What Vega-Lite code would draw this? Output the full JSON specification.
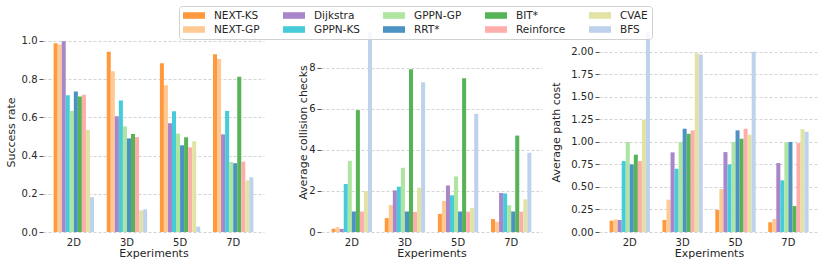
{
  "$schema": "https://vega.github.io/schema/vega-lite/v6.json",
  "padding": {"left": 5, "top": 5, "right": 3, "bottom": 2},
  "config": {
    "font": "DejaVu Sans",
    "view": {"stroke": null},
    "axis": {"labelFont": "DejaVu Sans", "titleFont": "DejaVu Sans", "labelColor": "#262626", "titleColor": "#262626", "titleFontWeight": "normal", "labelFontSize": 10, "titleFontSize": 11, "domain": false},
    "axisY": {"grid": true, "gridColor": "#c8c8c8", "gridDash": [3, 2], "gridWidth": 0.8, "tickColor": "#555555", "tickSize": 4, "labelPadding": 2},
    "axisX": {"grid": false, "ticks": false, "labelPadding": 5, "titlePadding": 0, "labelAngle": 0}
  },
  "datasets": {
    "d": [
      {"exp": "2D", "method": "NEXT-KS", "sr": 0.988, "cc": 0.16, "pc": 0.126},
      {"exp": "2D", "method": "NEXT-GP", "sr": 0.981, "cc": 0.23, "pc": 0.14},
      {"exp": "2D", "method": "Dijkstra", "sr": 0.998, "cc": 0.15, "pc": 0.133},
      {"exp": "2D", "method": "GPPN-KS", "sr": 0.716, "cc": 2.34, "pc": 0.787},
      {"exp": "2D", "method": "GPPN-GP", "sr": 0.634, "cc": 3.47, "pc": 1.0},
      {"exp": "2D", "method": "RRT*", "sr": 0.735, "cc": 1.0, "pc": 0.75},
      {"exp": "2D", "method": "BIT*", "sr": 0.709, "cc": 5.94, "pc": 0.858},
      {"exp": "2D", "method": "Reinforce", "sr": 0.719, "cc": 1.0, "pc": 0.787},
      {"exp": "2D", "method": "CVAE", "sr": 0.534, "cc": 2.0, "pc": 1.242},
      {"exp": "2D", "method": "BFS", "sr": 0.182, "cc": 10.5, "pc": 2.35},
      {"exp": "3D", "method": "NEXT-KS", "sr": 0.944, "cc": 0.68, "pc": 0.133},
      {"exp": "3D", "method": "NEXT-GP", "sr": 0.841, "cc": 1.31, "pc": 0.359},
      {"exp": "3D", "method": "Dijkstra", "sr": 0.606, "cc": 2.03, "pc": 0.884},
      {"exp": "3D", "method": "GPPN-KS", "sr": 0.689, "cc": 2.21, "pc": 0.702},
      {"exp": "3D", "method": "GPPN-GP", "sr": 0.553, "cc": 3.13, "pc": 1.0},
      {"exp": "3D", "method": "RRT*", "sr": 0.49, "cc": 1.0, "pc": 1.146},
      {"exp": "3D", "method": "BIT*", "sr": 0.513, "cc": 7.94, "pc": 1.09},
      {"exp": "3D", "method": "Reinforce", "sr": 0.497, "cc": 0.98, "pc": 1.128},
      {"exp": "3D", "method": "CVAE", "sr": 0.113, "cc": 2.16, "pc": 1.985},
      {"exp": "3D", "method": "BFS", "sr": 0.119, "cc": 7.3, "pc": 1.97},
      {"exp": "5D", "method": "NEXT-KS", "sr": 0.883, "cc": 0.88, "pc": 0.245},
      {"exp": "5D", "method": "NEXT-GP", "sr": 0.768, "cc": 1.51, "pc": 0.477},
      {"exp": "5D", "method": "Dijkstra", "sr": 0.569, "cc": 2.27, "pc": 0.887},
      {"exp": "5D", "method": "GPPN-KS", "sr": 0.632, "cc": 1.79, "pc": 0.75},
      {"exp": "5D", "method": "GPPN-GP", "sr": 0.515, "cc": 2.71, "pc": 1.0},
      {"exp": "5D", "method": "RRT*", "sr": 0.454, "cc": 1.0, "pc": 1.128},
      {"exp": "5D", "method": "BIT*", "sr": 0.496, "cc": 7.5, "pc": 1.035},
      {"exp": "5D", "method": "Reinforce", "sr": 0.443, "cc": 0.99, "pc": 1.146},
      {"exp": "5D", "method": "CVAE", "sr": 0.475, "cc": 1.18, "pc": 1.08},
      {"exp": "5D", "method": "BFS", "sr": 0.028, "cc": 5.76, "pc": 2.0},
      {"exp": "7D", "method": "NEXT-KS", "sr": 0.93, "cc": 0.63, "pc": 0.107},
      {"exp": "7D", "method": "NEXT-GP", "sr": 0.906, "cc": 0.5, "pc": 0.144},
      {"exp": "7D", "method": "Dijkstra", "sr": 0.511, "cc": 1.9, "pc": 0.765},
      {"exp": "7D", "method": "GPPN-KS", "sr": 0.634, "cc": 1.88, "pc": 0.573},
      {"exp": "7D", "method": "GPPN-GP", "sr": 0.366, "cc": 1.31, "pc": 0.995},
      {"exp": "7D", "method": "RRT*", "sr": 0.36, "cc": 1.0, "pc": 1.0},
      {"exp": "7D", "method": "BIT*", "sr": 0.813, "cc": 4.7, "pc": 0.288},
      {"exp": "7D", "method": "Reinforce", "sr": 0.368, "cc": 0.99, "pc": 0.987},
      {"exp": "7D", "method": "CVAE", "sr": 0.27, "cc": 1.59, "pc": 1.142},
      {"exp": "7D", "method": "BFS", "sr": 0.286, "cc": 3.86, "pc": 1.113}
    ]
  },
  "bounds": "flush",
  "spacing": 57,
  "resolve": {"scale": {"color": "shared"}, "legend": {"color": "shared"}},
  "hconcat": [
    {
      "width": 221, "height": 200,
      "data": {"name": "d"},
      "mark": {"type": "bar", "clip": true},
      "encoding": {
        "x": {"field": "exp", "type": "nominal", "title": "Experiments", "scale": {"paddingInner": 0.24, "paddingOuter": 0.2}},
        "xOffset": {"field": "method", "type": "nominal", "scale": {"domain": ["NEXT-KS", "NEXT-GP", "Dijkstra", "GPPN-KS", "GPPN-GP", "RRT*", "BIT*", "Reinforce", "CVAE", "BFS"], "paddingInner": 0, "paddingOuter": 0}},
        "y": {"field": "sr", "type": "quantitative", "title": "Success rate", "scale": {"domain": [0, 1.047], "nice": false}, "axis": {"values": [0, 0.2, 0.4, 0.6, 0.8, 1.0], "format": ".1f", "titlePadding": 5}},
        "color": {"field": "method", "type": "nominal",
          "scale": {"domain": ["NEXT-KS", "NEXT-GP", "Dijkstra", "GPPN-KS", "GPPN-GP", "RRT*", "BIT*", "Reinforce", "CVAE", "BFS"], "range": ["#ff993e", "#ffc993", "#a985ca", "#45cbd9", "#ade5a1", "#4c92c3", "#56b356", "#ffadab", "#e2e2a4", "#bed2ed"]},
          "legend": {"orient": "none", "legendX": 136, "legendY": -26, "columns": 5, "title": null, "symbolType": "M-1,-0.6H3V0.6H-1Z", "symbolSize": 121, "symbolStrokeWidth": 0, "symbolOpacity": 1, "labelFontSize": 10.5, "labelFont": "DejaVu Sans", "labelColor": "#262626", "labelOffset": 20, "columnPadding": 23, "rowPadding": 3, "padding": 4, "strokeColor": "#d0d0d0", "fillColor": "rgba(255,255,255,0.85)", "cornerRadius": 3}
        }
      }
    },
    {
      "width": 221, "height": 200,
      "data": {"name": "d"},
      "mark": {"type": "bar", "clip": true},
      "encoding": {
        "x": {"field": "exp", "type": "nominal", "title": "Experiments", "scale": {"paddingInner": 0.24, "paddingOuter": 0.2}},
        "xOffset": {"field": "method", "type": "nominal", "scale": {"domain": ["NEXT-KS", "NEXT-GP", "Dijkstra", "GPPN-KS", "GPPN-GP", "RRT*", "BIT*", "Reinforce", "CVAE", "BFS"], "paddingInner": 0, "paddingOuter": 0}},
        "y": {"field": "cc", "type": "quantitative", "title": "Average collision checks", "scale": {"domain": [0, 9.75], "nice": false}, "axis": {"values": [0, 2, 4, 6, 8], "format": "d", "titlePadding": 0}},
        "color": {"field": "method", "type": "nominal",
          "scale": {"domain": ["NEXT-KS", "NEXT-GP", "Dijkstra", "GPPN-KS", "GPPN-GP", "RRT*", "BIT*", "Reinforce", "CVAE", "BFS"], "range": ["#ff993e", "#ffc993", "#a985ca", "#45cbd9", "#ade5a1", "#4c92c3", "#56b356", "#ffadab", "#e2e2a4", "#bed2ed"]},
          "legend": {"orient": "none", "legendX": 136, "legendY": -26, "columns": 5, "title": null, "symbolType": "M-1,-0.6H3V0.6H-1Z", "symbolSize": 121, "symbolStrokeWidth": 0, "symbolOpacity": 1, "labelFontSize": 10.5, "labelFont": "DejaVu Sans", "labelColor": "#262626", "labelOffset": 20, "columnPadding": 23, "rowPadding": 3, "padding": 4, "strokeColor": "#d0d0d0", "fillColor": "rgba(255,255,255,0.85)", "cornerRadius": 3}
        }
      }
    },
    {
      "width": 220, "height": 200,
      "data": {"name": "d"},
      "mark": {"type": "bar", "clip": true},
      "encoding": {
        "x": {"field": "exp", "type": "nominal", "title": "Experiments", "scale": {"paddingInner": 0.24, "paddingOuter": 0.2}},
        "xOffset": {"field": "method", "type": "nominal", "scale": {"domain": ["NEXT-KS", "NEXT-GP", "Dijkstra", "GPPN-KS", "GPPN-GP", "RRT*", "BIT*", "Reinforce", "CVAE", "BFS"], "paddingInner": 0, "paddingOuter": 0}},
        "y": {"field": "pc", "type": "quantitative", "title": "Average path cost", "scale": {"domain": [0, 2.22], "nice": false}, "axis": {"values": [0, 0.25, 0.5, 0.75, 1.0, 1.25, 1.5, 1.75, 2.0], "format": ".2f", "titlePadding": 9}},
        "color": {"field": "method", "type": "nominal",
          "scale": {"domain": ["NEXT-KS", "NEXT-GP", "Dijkstra", "GPPN-KS", "GPPN-GP", "RRT*", "BIT*", "Reinforce", "CVAE", "BFS"], "range": ["#ff993e", "#ffc993", "#a985ca", "#45cbd9", "#ade5a1", "#4c92c3", "#56b356", "#ffadab", "#e2e2a4", "#bed2ed"]},
          "legend": {"orient": "none", "legendX": 136, "legendY": -26, "columns": 5, "title": null, "symbolType": "M-1,-0.6H3V0.6H-1Z", "symbolSize": 121, "symbolStrokeWidth": 0, "symbolOpacity": 1, "labelFontSize": 10.5, "labelFont": "DejaVu Sans", "labelColor": "#262626", "labelOffset": 20, "columnPadding": 23, "rowPadding": 3, "padding": 4, "strokeColor": "#d0d0d0", "fillColor": "rgba(255,255,255,0.85)", "cornerRadius": 3}
        }
      }
    }
  ]
}
